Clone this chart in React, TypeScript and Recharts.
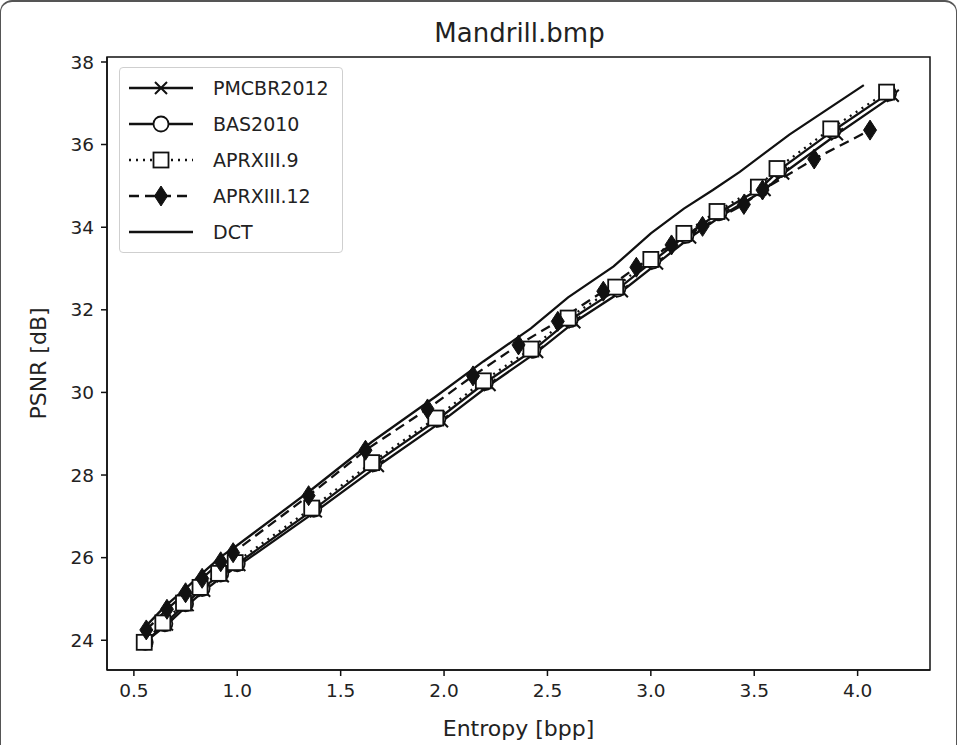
import { LineChart, Line, XAxis, YAxis, ReferenceArea } from "recharts";

const xTicks = [0.5, 1.0, 1.5, 2.0, 2.5, 3.0, 3.5, 4.0];
const yTicks = [24, 26, 28, 30, 32, 34, 36, 38];

// entropy [bpp] / PSNR [dB] per method
const pmcbrX = [0.56, 0.66, 0.76, 0.84, 0.93, 1.01, 1.38, 1.68, 1.99, 2.22, 2.45, 2.63, 2.86, 3.03, 3.19, 3.35, 3.55, 3.64, 3.9, 4.17];
const pmcbrY = [23.98, 24.38, 24.85, 25.2, 25.55, 25.82, 27.12, 28.22, 29.3, 30.18, 30.98, 31.7, 32.45, 33.12, 33.75, 34.3, 34.9, 35.3, 36.25, 37.18];

const basX = [0.555, 0.65, 0.75, 0.83, 0.92, 1.0, 1.37, 1.66, 1.97, 2.2, 2.43, 2.61, 2.84, 3.01, 3.17, 3.33, 3.53, 3.62, 3.88, 4.15];
const basY = [23.95, 24.4, 24.88, 25.25, 25.6, 25.85, 27.17, 28.27, 29.35, 30.24, 31.02, 31.76, 32.5, 33.18, 33.8, 34.35, 34.94, 35.38, 36.33, 37.24];

const aprx9X = [0.55, 0.64, 0.74, 0.82, 0.91, 0.99, 1.36, 1.65, 1.96, 2.19, 2.42, 2.6, 2.83, 3.0, 3.16, 3.32, 3.52, 3.61, 3.87, 4.14];
const aprx9Y = [23.95, 24.42, 24.9, 25.28, 25.62, 25.88, 27.2, 28.3, 29.38, 30.28, 31.05, 31.8, 32.55, 33.22, 33.85, 34.38, 34.97, 35.42, 36.38, 37.27];

const aprx12X = [0.56, 0.66, 0.75, 0.83, 0.92, 0.98, 1.345, 1.62, 1.92, 2.14, 2.36, 2.55, 2.77, 2.93, 3.1, 3.25, 3.45, 3.54, 3.79, 4.06];
const aprx12Y = [24.25, 24.75, 25.15, 25.5, 25.9, 26.12, 27.5, 28.6, 29.6, 30.4, 31.15, 31.72, 32.45, 33.03, 33.57, 34.02, 34.55, 34.9, 35.65, 36.35];

const dctX = [0.55, 0.65, 0.75, 0.83, 0.92, 1.0, 1.36, 1.65, 1.96, 2.19, 2.42, 2.6, 2.82, 3.0, 3.16, 3.3, 3.43, 3.67, 4.03];
const dctY = [24.3, 24.82, 25.25, 25.62, 26.02, 26.3, 27.65, 28.8, 29.9, 30.75, 31.55, 32.3, 33.05, 33.85, 34.45, 34.9, 35.34, 36.24, 37.44];

const toPoints = (xs: number[], ys: number[]) => xs.map((x, i) => ({ x, y: ys[i] }));

const INK = "#111";
const FONT = "'DejaVu Sans', sans-serif";

const crossDot = (p: any) => (
  <path
    key={`c${p.index}`}
    d={`M${p.cx - 6},${p.cy - 6}L${p.cx + 6},${p.cy + 6}M${p.cx - 6},${p.cy + 6}L${p.cx + 6},${p.cy - 6}`}
    stroke={INK}
    strokeWidth={2}
    fill="none"
  />
);
const circleDot = (p: any) => (
  <circle key={`o${p.index}`} cx={p.cx} cy={p.cy} r={7.5} fill="#fff" stroke={INK} strokeWidth={1.8} />
);
const squareDot = (p: any) => (
  <rect key={`s${p.index}`} x={p.cx - 7.5} y={p.cy - 7.5} width={15} height={15} fill="#fff" stroke={INK} strokeWidth={1.8} />
);
const diamondDot = (p: any) => (
  <path
    key={`d${p.index}`}
    d={`M${p.cx},${p.cy - 10}L${p.cx + 6.5},${p.cy}L${p.cx},${p.cy + 10}L${p.cx - 6.5},${p.cy}Z`}
    fill={INK}
    stroke={INK}
    strokeWidth={1}
  />
);

const legendRows = [
  { name: "PMCBR2012", dash: undefined, mark: "x" },
  { name: "BAS2010", dash: undefined, mark: "o" },
  { name: "APRXIII.9", dash: "2 5", mark: "s" },
  { name: "APRXIII.12", dash: "10 6", mark: "d" },
  { name: "DCT", dash: undefined, mark: "" },
];

function LegendBox() {
  return (
    <div
      style={{
        position: "absolute",
        left: 118,
        top: 65,
        border: "1px solid #cfcfcf",
        borderRadius: 4,
        background: "#fff",
        padding: "2px 0",
        width: 222,
        fontFamily: FONT,
      }}
    >
      {legendRows.map((r) => (
        <div key={r.name} style={{ display: "flex", alignItems: "center", height: 36 }}>
          <svg width={64} height={24} style={{ marginLeft: 9 }}>
            <line x1={0} y1={12} x2={64} y2={12} stroke={INK} strokeWidth={2.4} strokeDasharray={r.dash} />
            {r.mark === "x" && crossDot({ cx: 32, cy: 12, index: 0 })}
            {r.mark === "o" && circleDot({ cx: 32, cy: 12, index: 0 })}
            {r.mark === "s" && squareDot({ cx: 32, cy: 12, index: 0 })}
            {r.mark === "d" && diamondDot({ cx: 32, cy: 12, index: 0 })}
          </svg>
          <span style={{ marginLeft: 20, fontSize: 19, color: "#222" }}>{r.name}</span>
        </div>
      ))}
    </div>
  );
}

export default function App() {
  return (
    <div
      style={{
        position: "absolute",
        left: 0,
        top: 0,
        width: 957,
        height: 745,
        background: "#fff",
        boxSizing: "border-box",
        borderTop: "2px solid #555",
        borderLeft: "1.5px solid #555",
        borderRight: "1.5px solid #555",
        borderTopLeftRadius: 12,
        borderTopRightRadius: 12,
        overflow: "hidden",
        fontFamily: FONT,
      }}
    >
      <div
        style={{
          position: "absolute",
          left: 107,
          top: 15,
          width: 823,
          textAlign: "center",
          fontSize: 26,
          lineHeight: "32px",
          color: "#222",
        }}
      >
        Mandrill.bmp
      </div>
      <div style={{ position: "absolute", left: -1.5, top: -2 }}>
        <LineChart width={957} height={745} margin={{ top: 57, right: 27, left: 0, bottom: 0 }}>
          <XAxis
            type="number"
            dataKey="x"
            domain={[0.37, 4.35]}
            ticks={xTicks}
            allowDataOverflow
            height={75}
            tickFormatter={(v: number) => v.toFixed(1)}
            tick={{ fontSize: 18.5, fill: "#222", fontFamily: FONT }}
            tickMargin={8}
            stroke={INK}
            strokeWidth={1.5}
            label={{ value: "Entropy [bpp]", position: "insideBottom", offset: 9, fontSize: 22, fill: "#222", fontFamily: FONT }}
          />
          <YAxis
            type="number"
            dataKey="y"
            domain={[23.28, 38.12]}
            ticks={yTicks}
            allowDataOverflow
            width={107}
            tick={{ fontSize: 18.5, fill: "#222", fontFamily: FONT }}
            tickMargin={7}
            stroke={INK}
            strokeWidth={1.5}
            label={{
              value: "PSNR [dB]",
              angle: -90,
              position: "insideLeft",
              offset: 38,
              fontSize: 22,
              fill: "#222",
              fontFamily: FONT,
              style: { textAnchor: "middle" },
            }}
          />
          <ReferenceArea x1={0.37} x2={4.35} y1={23.28} y2={38.12} fill="none" stroke={INK} strokeWidth={1.5} />
          <Line data={toPoints(pmcbrX, pmcbrY)} dataKey="y" name="PMCBR2012" type="linear" stroke={INK} strokeWidth={2.3} dot={crossDot} isAnimationActive={false} />
          <Line data={toPoints(basX, basY)} dataKey="y" name="BAS2010" type="linear" stroke={INK} strokeWidth={2.3} dot={circleDot} isAnimationActive={false} />
          <Line data={toPoints(aprx9X, aprx9Y)} dataKey="y" name="APRXIII.9" type="linear" stroke={INK} strokeWidth={2.3} strokeDasharray="2 5" dot={squareDot} isAnimationActive={false} />
          <Line data={toPoints(aprx12X, aprx12Y)} dataKey="y" name="APRXIII.12" type="linear" stroke={INK} strokeWidth={2.3} strokeDasharray="10 6" dot={diamondDot} isAnimationActive={false} />
          <Line data={toPoints(dctX, dctY)} dataKey="y" name="DCT" type="linear" stroke={INK} strokeWidth={2.3} dot={false} isAnimationActive={false} />
        </LineChart>
      </div>
      <LegendBox />
    </div>
  );
}
